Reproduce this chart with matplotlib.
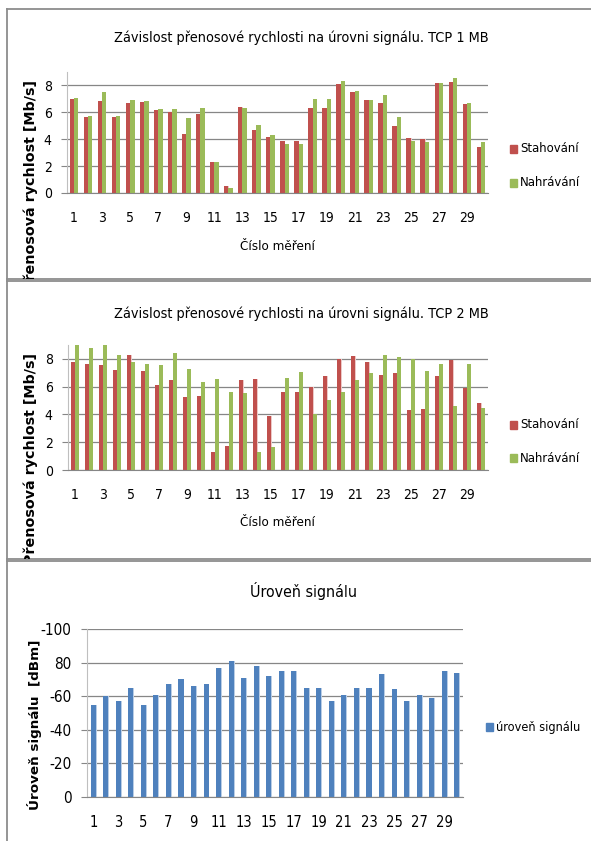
import os
import matplotlib
matplotlib.use("Agg")
import matplotlib.pyplot as plt
from matplotlib import font_manager
from matplotlib.patches import Rectangle
import numpy as np

# ---------------------------------------------------------------
#                       DATA
# ---------------------------------------------------------------
mereni = list(range(1, 31))

# TCP 1 MB [Mb/s]
stahovani_1mb = [6.98, 5.64, 6.83, 5.64, 6.68, 6.76, 6.16, 6.01, 4.36, 5.86,
                 2.34, 0.55, 6.38, 4.66, 4.14, 3.84, 3.84, 6.31, 6.31, 8.10,
                 7.50, 6.90, 6.68, 4.96, 4.06, 3.99, 8.18, 8.25, 6.61, 3.39]
nahravani_1mb = [7.06, 5.71, 7.50, 5.71, 6.90, 6.83, 6.23, 6.23, 5.56, 6.31,
                 2.34, 0.40, 6.31, 5.04, 4.29, 3.62, 3.62, 6.98, 6.98, 8.33,
                 7.58, 6.90, 7.28, 5.64, 3.84, 3.77, 8.18, 8.55, 6.68, 3.77]

# TCP 2 MB [Mb/s]
stahovani_2mb = [7.81, 7.66, 7.59, 7.23, 8.31, 7.16, 6.14, 6.51, 5.28, 5.35,
                 1.30, 1.73, 6.51, 6.58, 3.90, 5.64, 5.64, 6.00, 6.80, 8.02,
                 8.24, 7.81, 6.87, 7.01, 4.34, 4.41, 6.80, 7.95, 5.93, 4.84]
nahravani_2mb = [9.04, 8.75, 9.04, 8.31, 7.81, 7.66, 7.59, 8.39, 7.30, 6.36,
                 6.58, 5.64, 5.57, 1.30, 1.66, 6.65, 7.08, 4.05, 5.06, 5.64,
                 6.51, 7.01, 8.31, 8.17, 8.02, 7.16, 7.66, 4.63, 7.66, 4.48]

# uroven signalu [dBm]
signal = [-55, -60, -57, -65, -55, -61, -67, -70, -66, -67,
          -77, -81, -71, -78, -72, -75, -75, -65, -65, -57,
          -61, -65, -65, -73, -64, -57, -61, -59, -75, -74]

xtick_labels = [str(i) for i in range(1, 31, 2)]
rychlost_ticks = [0, 2, 4, 6, 8]
signal_ticks = [-100, -80, -60, -40, -20, 0]
signal_tick_labels = ["-100", "80", "-60", "-40", "-20", "0"]

# ---------------------------------------------------------------
#                       FONTS
# ---------------------------------------------------------------
def find_narrow_font():
    prefs = ["LiberationSansNarrow-Regular", "NotoSans-Condensed.",
             "NotoSans-CondensedRegular", "NotoSans-Condensed-Regular",
             "DejaVuSansCondensed.", "RobotoCondensed-Regular",
             "OpenSans-CondensedRegular", "OpenSans_Condensed-Regular",
             "NotoSans-SemiCondensed.", "NotoSans-SemiCondensedRegular"]
    files = set(font_manager.findSystemFonts())
    files |= {f.fname for f in font_manager.fontManager.ttflist}
    for p in prefs:
        for f in sorted(files):
            if p in os.path.basename(f):
                return f
    return None


narrow_path = find_narrow_font()
if narrow_path:
    font_manager.fontManager.addfont(narrow_path)
    NARROW_NAME = font_manager.FontProperties(fname=narrow_path).get_name()
else:
    NARROW_NAME = "Roboto"


def narrow(size):
    if narrow_path:
        return font_manager.FontProperties(fname=narrow_path, size=size)
    return font_manager.FontProperties(family=NARROW_NAME, size=size)


# ---------------------------------------------------------------
#                       STYLE
# ---------------------------------------------------------------
W, H = 591, 841
BOLD = ["DejaVu Sans"]
RED = "#c0504d"
GREEN = "#9bbb59"
BLUE = "#4f81bd"
RED_SHADE = "#ecc8c7"
BLUE_SHADE = "#b9cde5"
GRID = "#868686"
FRAME = "#8c8c8c"

fig = plt.figure(figsize=(W / 100, H / 100), dpi=100)


def rect(x0, y0, x1, y1):
    # pixel box (top-left origin) -> figure fraction rect
    return [x0 / W, 1 - y1 / H, (x1 - x0) / W, (y1 - y0) / H]


def fx(x):
    return x / W


def fy(y):
    return 1 - y / H


def panel(y0, y1):
    bg = fig.add_axes(rect(7, y0, 640, y1), zorder=0)
    bg.set_xticks([])
    bg.set_yticks([])
    bg.set_xlim(0, 1)
    bg.set_ylim(0, 1)
    for s in bg.spines.values():
        s.set_color(FRAME)
        s.set_linewidth(1.3)
    return bg


def style_axes(ax, ysize=10, xsize=10):
    ax.set_facecolor("none")
    for s in ["top", "right"]:
        ax.spines[s].set_visible(False)
    ax.spines["left"].set_color("#bfbfbf")
    ax.spines["bottom"].set_color(GRID)
    ax.yaxis.grid(True, color=GRID, linewidth=0.9)
    ax.set_axisbelow(True)
    ax.tick_params(axis="y", length=4, color=GRID, pad=7)
    ax.tick_params(axis="x", length=0, pad=13)
    for lab in ax.get_yticklabels():
        lab.set_fontproperties(narrow(ysize))
    for lab in ax.get_xticklabels():
        lab.set_fontproperties(narrow(xsize))


def legend_item(bg, x, y, color, text, size=9.4):
    bg.add_patch(Rectangle((fx(x), fy(y + 4)), 7 / W, 8 / H, color=color,
                           transform=fig.transFigure, clip_on=False))
    bg.text(fx(x + 10), fy(y), text, transform=fig.transFigure,
            ha="left", va="center", fontproperties=narrow(size))


def rychlost_chart(y0, y1, plot_box, stah, nahr, title, title_y,
                   label_top, xlabel_y, leg_y):
    bg = panel(y0, y1)
    ax = fig.add_axes(rect(*plot_box), zorder=1)
    x = np.array(mereni)
    w = 0.31
    # light edge on the right of the red bars
    ax.bar(x - w / 2 + 0.06, stah, w, color=RED_SHADE)
    ax.bar(x - w / 2, stah, w, color=RED)
    ax.bar(x + w / 2, nahr, w, color=GREEN)
    ax.set_xlim(0.5, 30.5)
    ax.set_ylim(0, 9)
    ax.set_yticks(rychlost_ticks)
    ax.set_xticks(range(1, 31, 2))
    ax.set_xticklabels(xtick_labels)
    style_axes(ax)

    bg.text(fx(301), fy(title_y), title, transform=fig.transFigure,
            ha="center", va="center", fontproperties=narrow(10.4))
    bg.text(fx(277), fy(xlabel_y), "Číslo měření", transform=fig.transFigure,
            ha="center", va="center", fontproperties=narrow(9.6))
    bg.text(fx(31), fy(label_top), "Přenosová rychlost [Mb/s]",
            transform=fig.transFigure, rotation=90, ha="center", va="top",
            fontsize=10.3, fontweight="bold", family=BOLD, clip_on=True)
    legend_item(bg, 510, leg_y[0], RED, "Stahování")
    legend_item(bg, 510, leg_y[1], GREEN, "Nahrávání")


rychlost_chart(9, 279, (67, 72, 488, 193), stahovani_1mb, nahravani_1mb,
               "Závislost přenosové rychlosti na úrovni signálu. TCP 1 MB",
               38, 80, 246, (149, 183))
rychlost_chart(281, 559, (68, 345, 488, 470), stahovani_2mb, nahravani_2mb,
               "Závislost přenosové rychlosti na úrovni signálu. TCP 2 MB",
               314, 353, 522, (425, 458))

# signal level
bg = panel(561, 900)
ax = fig.add_axes(rect(87, 629, 463, 797), zorder=1)
ax.bar(np.array(mereni) + 0.07, signal, 0.4, color=BLUE_SHADE)
ax.bar(mereni, signal, 0.4, color=BLUE)
ax.set_xlim(0.5, 30.5)
ax.set_ylim(0, -100)
ax.set_yticks(signal_ticks)
ax.set_yticklabels(signal_tick_labels)
ax.set_xticks(range(1, 31, 2))
ax.set_xticklabels(xtick_labels)
style_axes(ax, ysize=11, xsize=10.5)

bg.text(fx(303), fy(591), "Úroveň signálu", transform=fig.transFigure,
        ha="center", va="center", fontproperties=narrow(11.4))
bg.text(fx(35), fy(640), "Úroveň signálu  [dBm]", transform=fig.transFigure,
        rotation=90, ha="center", va="top", fontsize=9.7, fontweight="bold",
        family=BOLD, clip_on=True)
legend_item(bg, 486, 727, BLUE, "úroveň signálu", size=9.1)

fig.savefig("out.png", dpi=100, facecolor="white")
